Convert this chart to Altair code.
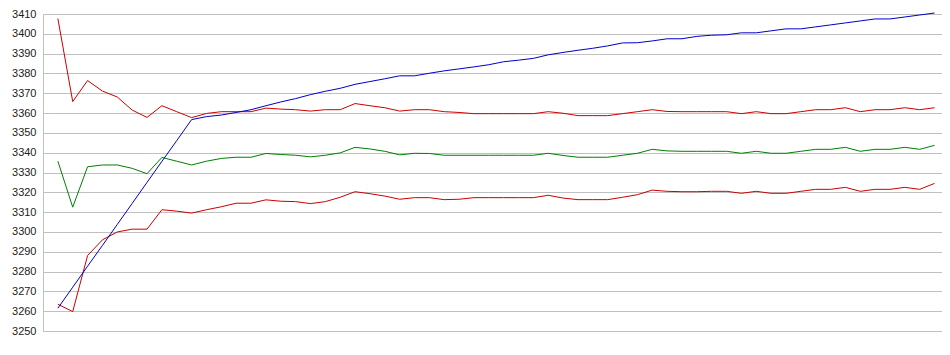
import altair as alt
import pandas as pd

upper = [3407.7, 3365.8, 3376.4, 3371.1, 3368.1, 3361.5, 3357.8, 3363.7, 3360.7, 3357.7,
         3359.8, 3360.7, 3360.7, 3360.7, 3362.5, 3362.0, 3361.7, 3361.0, 3361.7, 3361.7,
         3364.8, 3363.7, 3362.7, 3361.0, 3361.7, 3361.7, 3360.7, 3360.3, 3359.7, 3359.7,
         3359.7, 3359.7, 3359.7, 3360.7, 3359.9, 3358.7, 3358.7, 3358.7, 3359.7, 3360.7,
         3361.7, 3360.8, 3360.7, 3360.7, 3360.7, 3360.7, 3359.7, 3360.7, 3359.7, 3359.7,
         3360.7, 3361.7, 3361.7, 3362.7, 3360.7, 3361.7, 3361.7, 3362.7, 3361.7, 3362.7]

middle = [3335.7, 3312.5, 3332.9, 3333.8, 3333.8, 3332.1, 3329.4, 3337.6, 3335.7, 3333.8,
          3335.7, 3337.1, 3337.7, 3337.7, 3339.6, 3339.1, 3338.7, 3337.9, 3338.7, 3339.9,
          3342.7, 3341.9, 3340.7, 3338.9, 3339.7, 3339.6, 3338.7, 3338.7, 3338.7, 3338.7,
          3338.7, 3338.7, 3338.7, 3339.7, 3338.6, 3337.7, 3337.7, 3337.7, 3338.7, 3339.7,
          3341.7, 3340.9, 3340.7, 3340.7, 3340.7, 3340.7, 3339.7, 3340.7, 3339.7, 3339.7,
          3340.7, 3341.7, 3341.7, 3342.7, 3340.7, 3341.7, 3341.7, 3342.7, 3341.7, 3343.7]

lower = [3263.5, 3259.8, 3288.1, 3296.0, 3300.0, 3301.4, 3301.4, 3311.2, 3310.5, 3309.5,
         3311.2, 3312.7, 3314.5, 3314.5, 3316.2, 3315.5, 3315.3, 3314.3, 3315.3, 3317.5,
         3320.3, 3319.3, 3318.1, 3316.5, 3317.3, 3317.3, 3316.3, 3316.5, 3317.3, 3317.3,
         3317.3, 3317.3, 3317.3, 3318.5, 3317.1, 3316.3, 3316.3, 3316.3, 3317.5, 3318.8,
         3321.1, 3320.5, 3320.3, 3320.3, 3320.5, 3320.5, 3319.5, 3320.5, 3319.5, 3319.5,
         3320.5, 3321.5, 3321.5, 3322.5, 3320.5, 3321.5, 3321.5, 3322.5, 3321.5, 3324.5]

price = [3261.5, 3272.1, 3282.7, 3293.2, 3303.8, 3314.4, 3325.0, 3335.6, 3346.1, 3356.7,
         3358.2, 3359.0, 3360.3, 3361.7, 3363.7, 3365.6, 3367.3, 3369.3, 3371.0, 3372.5,
         3374.5, 3375.9, 3377.3, 3378.8, 3378.8, 3380.1, 3381.3, 3382.3, 3383.3, 3384.4,
         3385.9, 3386.7, 3387.6, 3389.4, 3390.6, 3391.7, 3392.7, 3393.9, 3395.4, 3395.5,
         3396.4, 3397.5, 3397.5, 3398.7, 3399.3, 3399.5, 3400.5, 3400.5, 3401.5, 3402.5,
         3402.5, 3403.5, 3404.5, 3405.5, 3406.5, 3407.5, 3407.5, 3408.5, 3409.5, 3410.5]

series_names = ["upper", "middle", "lower", "price"]
series_colors = ["#cc0000", "#008000", "#cc0000", "#0000cc"]
y_ticks = list(range(3250, 3411, 10))

rows = []
for name, vals in zip(series_names, [upper, middle, lower, price]):
    for i, v in enumerate(vals):
        rows.append({"i": i, "value": v, "series": name})
df = pd.DataFrame(rows)

chart = alt.Chart(df).mark_line(strokeWidth=1, clip=False).encode(
    x=alt.X("i:Q", scale=alt.Scale(domain=[-1, 59.5], nice=False, zero=False), axis=None),
    y=alt.Y("value:Q",
            scale=alt.Scale(domain=[3250, 3410], nice=False, zero=False),
            axis=alt.Axis(values=y_ticks, title=None, ticks=False, labelPadding=7, format="d",
                          domainColor="#c0c0c0", gridColor="#c0c0c0", grid=True,
                          labelFont="Liberation Sans", labelFontSize=11,
                          labelColor="#222222", labelFlush=False)),
    color=alt.Color("series:N", scale=alt.Scale(domain=series_names, range=series_colors), legend=None),
    order=alt.Order("i:Q"),
).properties(
    width=899, height=317,
    autosize=alt.AutoSizeParams(type="none"),
    padding={"left": 35, "top": 6, "right": 0, "bottom": 10},
).configure_view(stroke=None)

chart.save("out.html", embed_options={"renderer": "svg", "actions": False})
